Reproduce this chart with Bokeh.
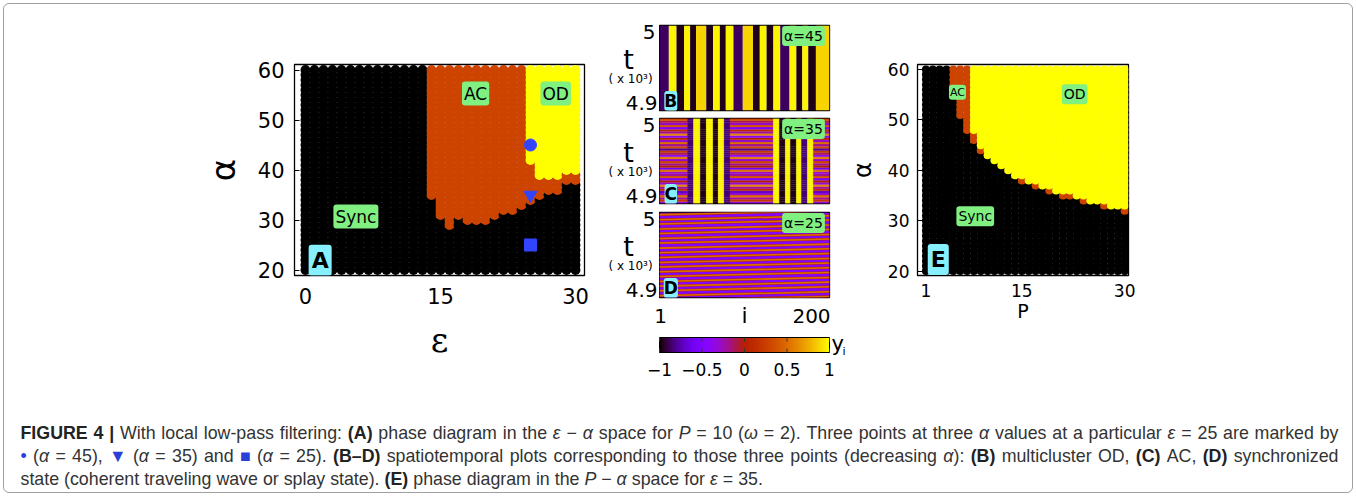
import numpy as np
from bokeh.plotting import figure
from bokeh.models import Range1d, Label, FixedTicker, LinearColorMapper, ColumnDataSource
from bokeh.layouts import row, column
from bokeh.embed import file_html
from bokeh.resources import INLINE
from bokeh.core.properties import value

# ---------------- data ----------------
# Panel A : phase diagram eps - alpha (P = 10)
A_eps = list(range(0, 31))
A_alpha = list(range(20, 61))
A_ac_eps = [14, 15, 16, 17, 18, 19, 20, 21, 22, 23, 24, 25, 26, 27, 28, 29, 30]
A_ac_bottom = [35, 31, 29, 31, 30, 30, 30, 31, 32, 32, 33, 34, 35, 36, 36, 38, 38]
A_od_eps = [25, 26, 27, 28, 29, 30]
A_od_bottom = [42, 39, 39, 39, 40, 40]
A_mark_eps = [25, 25, 25]
A_mark_alpha = [45, 35, 25]
A_mark_shape = ["circle", "inverted_triangle", "square"]

# Panel E : phase diagram P - alpha (eps = 35)
E_P = list(range(1, 31))
E_alpha = list(range(20, 61))
E_sync_top = [60, 60, 60, 60, 56, 50, 47, 45, 43, 42, 41, 40, 39, 38, 37,
              37, 36, 36, 35, 35, 34, 34, 34, 33, 33, 33, 32, 32, 32, 31]
E_ac_top = [60, 60, 60, 60, 60, 60, 60, 47, 44, 42, 41, 40, 39, 38, 38,
            37, 37, 36, 36, 35, 35, 35, 34, 34, 33, 33, 33, 32, 32, 32]

# Panel B : multicluster OD (stripes constant in time)
B_i_start = [1, 12, 21, 30, 37, 44, 56, 64, 72, 79, 88, 99, 111, 119, 127, 135,
             143, 154, 162, 169, 176, 185]
B_y = [-0.88, 0.97, -0.97, 0.97, -0.97, 0.88, -0.97, 0.97, -0.97, 0.97, -0.88,
       0.88, -0.97, 0.97, -0.97, 0.97, -0.88, 0.97, -0.97, 0.97, -0.97, 0.88]

# Panel C : AC state (None = incoherent, time-varying nodes)
C_i_start = [1, 34, 41, 49, 56, 64, 70, 77, 84, 135, 142, 149, 155, 162, 168, 175, 182]
C_y = [None, -0.85, 0.97, -0.97, 0.97, -0.97, 0.97, -0.85, None, 0.97, -0.97,
       0.97, -0.97, 0.97, -0.85, 0.97, None]
C_rows_y = [-0.3, 0.2, -0.2, 0.5, -0.3, -0.7, 0.1, -0.2, 0.6, -0.3, 0.0, -0.5,
            0.4, -0.2, -0.3, 0.5, -0.6, 0.0, -0.2, 0.3, -0.3, 0.6, -0.4, -0.1,
            0.2, -0.8, 0.3, -0.2, 0.5, -0.3, 0.0, -0.4, 0.6, -0.2, 0.1, -0.5,
            0.4, -0.3, -0.1, 0.3]

# Panel D : travelling wave, band centres (t at i = 1) and drift over i = 1..200
D_band_t = [4.8910, 4.8965, 4.9020, 4.9079, 4.9134, 4.9188, 4.9247, 4.9302,
            4.9358, 4.9412, 4.9471, 4.9526, 4.9581, 4.9640, 4.9694, 4.9753,
            4.9805, 4.9864, 4.9914, 4.9973]
D_rise = 0.0047

cbar_ticks = [-1.0, -0.5, 0.0, 0.5, 1.0]
cbar_labels = ["−1", "−0.5", "0", "0.5", "1"]

# ---------------- styles ----------------
SYNC_C, AC_C, OD_C = "#000000", "#cc4400", "#ffff00"
GREEN, CYAN = "#80f080", "#86f0ff"
BLUE = "#3344ff"
TICKFONT = "DejaVu Sans"


def gp_rgb(v):
    x = min(max((v + 1) / 2.0, 0.0), 1.0)
    r = np.sqrt(x)
    g = x ** 3
    b = max(0.0, np.sin(2 * np.pi * x))
    return "#%02x%02x%02x" % (int(round(255 * r)), int(round(255 * g)), int(round(255 * b)))


PALETTE = [gp_rgb(-1 + 2 * k / 255.0) for k in range(256)]
MAPPER = LinearColorMapper(palette=PALETTE, low=-1, high=1)


def base_fig(w, h, xr, yr, ml, mr, mt, mb, axes=True):
    kw = dict(width=w, height=h, x_range=xr, y_range=yr, output_backend="svg",
              toolbar_location=None, min_border_left=ml, min_border_right=mr,
              min_border_top=mt, min_border_bottom=mb)
    if not axes:
        kw.update(x_axis_location=None, y_axis_location=None)
    p = figure(**kw)
    for g in p.grid:
        g.visible = False
    p.outline_line_color = "black"
    p.outline_line_width = 1.3
    p.background_fill_color = "white"
    p.border_fill_color = None
    return p


def text_fig(w, h, x0, x1, y0, y1):
    # a bare canvas in page-pixel coordinates (y downwards) for text and the colour bar
    p = figure(width=w, height=h, x_range=Range1d(x0, x1), y_range=Range1d(y1, y0),
               output_backend="svg", toolbar_location=None, x_axis_location=None,
               y_axis_location=None, min_border=0)
    p.outline_line_color = None
    p.background_fill_color = None
    p.border_fill_color = None
    for g in p.grid:
        g.visible = False
    return p


def style_axis(ax, fs, standoff):
    ax.major_label_text_font = TICKFONT
    ax.major_label_text_font_size = fs
    ax.major_label_text_color = "black"
    ax.major_label_standoff = standoff
    ax.major_tick_in = 5
    ax.major_tick_out = 0
    ax.minor_tick_line_color = None
    ax.axis_line_color = "black"
    ax.axis_label_text_font_style = "normal"
    ax.axis_label_text_color = "black"


def box_label(p, x, y, text, fs, bg, bold=False, units="data", pad=2, font=TICKFONT):
    lab = Label(x=x, y=y, x_units=units, y_units=units, text=text,
                text_font=font, text_font_size=fs,
                text_font_style="bold" if bold else "normal",
                text_align="center", text_baseline="middle", text_color="black",
                background_fill_color=bg, border_line_color=None,
                padding=pad, border_radius=3)
    p.add_layout(lab)


def put_text(p, x, y, text, fs, align="center", font=TICKFONT):
    p.text(x=[x], y=[y], text=[text], text_font=value(font), text_font_size=fs,
           text_align=align, text_baseline="middle", text_color="black")


# ---------------- panel A ----------------
ac_b = dict(zip(A_ac_eps, A_ac_bottom))
od_b = dict(zip(A_od_eps, A_od_bottom))
ax_, ay_, ac_ = [], [], []
for a in A_alpha:
    for e in A_eps:
        if e in od_b and a >= od_b[e]:
            c = OD_C
        elif e in ac_b and a >= ac_b[e]:
            c = AC_C
        else:
            c = SYNC_C
        ax_.append(e); ay_.append(a); ac_.append(c)

pA = base_fig(600, 392, Range1d(-1.22, 31.0), Range1d(18.9, 61.1), 294, 16, 25, 95)
pA.scatter(x="x", y="y", fill_color="c", line_color=None, size=9.9,
           source=ColumnDataSource(dict(x=ax_, y=ay_, c=ac_)))
pA.scatter(x=A_mark_eps, y=A_mark_alpha, marker=A_mark_shape, size=[12, 13, 12],
           fill_color=BLUE, line_color=BLUE)
pA.xaxis.ticker = FixedTicker(ticks=[0, 15, 30])
pA.yaxis.ticker = FixedTicker(ticks=[20, 30, 40, 50, 60])
style_axis(pA.xaxis[0], "21px", 12)
style_axis(pA.yaxis[0], "21px", 10)
pA.xaxis.axis_label = "ε"
pA.xaxis.axis_label_text_font = "DejaVu Serif"
pA.xaxis.axis_label_text_font_size = "34px"
pA.xaxis.axis_label_standoff = 13
pA.yaxis.axis_label = "α"
pA.yaxis.axis_label_text_font = "DejaVu Sans"
pA.yaxis.axis_label_text_font_size = "34px"
pA.yaxis.axis_label_standoff = 12
box_label(pA, 5.6, 30.7, "Sync", "17px", GREEN)
box_label(pA, 18.9, 55.3, "AC", "17px", GREEN)
box_label(pA, 27.8, 55.3, "OD", "17px", GREEN)
box_label(pA, 1.63, 21.94, "A", "22px", CYAN, bold=True, pad=3)

# ---------------- panels B, C, D ----------------
def st_fig(h, mt, mb):
    return base_fig(186, h, Range1d(0.5, 200.5), Range1d(4.9, 5.0), 0, 16, mt, mb, axes=False)


def st_tags(p, tag, alab):
    box_label(p, 144, 74.5, alab, "14px", GREEN, units="screen", pad=2)
    box_label(p, 11.3, 9.5, tag, "17px", CYAN, bold=True, units="screen", pad=0)


pB = st_fig(114, 25, 4)
bl, br, bc = [], [], []
for k, s in enumerate(B_i_start):
    e = B_i_start[k + 1] if k + 1 < len(B_i_start) else 201
    bl.append(s - 0.5); br.append(e - 0.5); bc.append(gp_rgb(B_y[k]))
pB.quad(left=bl, right=br, bottom=4.9, top=5.0, fill_color=bc, line_color=None)
st_tags(pB, "B", "α=45")

pC = st_fig(93, 4, 4)
cl, cr, cb, ct, cc = [], [], [], [], []
nr = len(C_rows_y)
for k, s in enumerate(C_i_start):
    e = C_i_start[k + 1] if k + 1 < len(C_i_start) else 201
    for r in range(nr):
        v = C_y[k] if C_y[k] is not None else C_rows_y[r]
        cl.append(s - 0.5); cr.append(e - 0.5)
        cb.append(4.9 + 0.1 * r / nr); ct.append(4.9 + 0.1 * (r + 1) / nr)
        cc.append(gp_rgb(v))
pC.quad(left=cl, right=cr, bottom=cb, top=ct, fill_color=cc, line_color=cc, line_width=0.3)
st_tags(pC, "C", "α=35")

pD = st_fig(93, 5, 3)
pD.quad(left=0.5, right=200.5, bottom=4.9, top=5.0, fill_color=gp_rgb(-0.45), line_color=None)
for half, v in [(0.00145, 0.0), (0.0009, 0.5)]:
    xs = [[0.5, 200.5, 200.5, 0.5] for _ in D_band_t]
    ys = [[t - half, t + D_rise - half, t + D_rise + half, t + half] for t in D_band_t]
    pD.patches(xs=xs, ys=ys, fill_color=gp_rgb(v), line_color=None)
st_tags(pD, "D", "α=25")

# left-hand labels of B, C, D (page-pixel coordinates, x 600..659, y 0..300)
pL = text_fig(59, 300, 600, 659, 0, 300)
for dy in [0, 93, 187]:
    put_text(pL, 655, 31 + dy, "5", "20px", align="right")
    put_text(pL, 657, 102 + dy, "4.9", "20px", align="right")
    put_text(pL, 628, 59 + dy, "t", "27px")
    put_text(pL, 630, 78 + dy, "( x 10³)", "12px")

# i-axis labels under D and the colour bar (page-pixel coordinates, x 600..845, y 300..392)
pBot = text_fig(245, 92, 600, 845, 300, 392)
put_text(pBot, 660, 315, "1", "20px")
put_text(pBot, 744, 315, "i", "22px")
put_text(pBot, 811, 315, "200", "20px")
CB_L, CB_R, CB_T, CB_B = 659, 829, 337, 352
pBot.image(image=[np.linspace(-1, 1, 256).reshape(1, 256)], x=CB_L, y=CB_T,
           dw=CB_R - CB_L, dh=CB_B - CB_T, color_mapper=MAPPER)
pBot.quad(left=CB_L, right=CB_R, bottom=CB_B, top=CB_T, fill_color=None,
          line_color="black", line_width=1)
tick_x = [CB_L + (t + 1) / 2.0 * (CB_R - CB_L) for t in cbar_ticks]
pBot.segment(x0=tick_x, x1=tick_x, y0=CB_T, y1=CB_T + 4, line_color="#333333", line_width=1)
pBot.segment(x0=tick_x, x1=tick_x, y0=CB_B - 4, y1=CB_B, line_color="#333333", line_width=1)
for xt, lab in zip(tick_x, cbar_labels):
    put_text(pBot, xt, 369, lab, "17px")
put_text(pBot, 831, 343, "y", "21px", align="left")
put_text(pBot, 842, 351, "i", "11px", align="left")

# ---------------- panel E ----------------
ex_, ey_, ec_ = [], [], []
for a in E_alpha:
    for k, P in enumerate(E_P):
        if a <= E_sync_top[k]:
            c = SYNC_C
        elif a <= E_ac_top[k]:
            c = AC_C
        else:
            c = OD_C
        ex_.append(P); ey_.append(a); ec_.append(c)

pE = base_fig(511, 392, Range1d(-0.23, 30.56), Range1d(19.13, 61.0), 57, 228, 64, 117)
pE.scatter(x="x", y="y", fill_color="c", line_color=None, size=8.0,
           source=ColumnDataSource(dict(x=ex_, y=ey_, c=ec_)))
pE.xaxis.ticker = FixedTicker(ticks=[1, 15, 30])
pE.yaxis.ticker = FixedTicker(ticks=[20, 30, 40, 50, 60])
style_axis(pE.xaxis[0], "17px", 8)
style_axis(pE.yaxis[0], "17px", 8)
pE.xaxis.axis_label = "P"
pE.xaxis.axis_label_text_font = "DejaVu Sans"
pE.xaxis.axis_label_text_font_size = "19px"
pE.xaxis.axis_label_standoff = 0
pE.yaxis.axis_label = "α"
pE.yaxis.axis_label_text_font = "DejaVu Sans"
pE.yaxis.axis_label_text_font_size = "24px"
pE.yaxis.axis_label_standoff = 8
box_label(pE, 5.6, 55.5, "AC", "11px", GREEN, pad=1)
box_label(pE, 22.7, 55.1, "OD", "14px", GREEN, pad=2)
box_label(pE, 8.2, 30.9, "Sync", "14px", GREEN, pad=2)
box_label(pE, 2.8, 22.3, "E", "22px", CYAN, bold=True, pad=3)

# ---------------- caption ----------------
REG_W = {}
for chars, w in [(" ,.:;!ftI[]/", 278), ("ijl", 222), ("()-r", 333), ("cksvxyzJ", 500),
                 ("0123456789abdeghnopquL?–_", 556), ("=+−<>", 584), ("FTZ", 611),
                 ("ABEKPSVXY", 667), ("CDHNRUw", 722), ("GOQ", 778), ("mM", 833),
                 ("W", 944), ("|", 260), ("α", 578), ("ε", 446), ("ω", 781), ("•", 350),
                 ("▼", 989), ("■", 604)]:
    for ch in chars:
        REG_W[ch] = w
BOLD_W = dict(REG_W)
for chars, w in [("()", 333), ("ABCDRUH", 722), ("E", 667), ("F", 611), ("G", 778),
                 ("I ", 278), ("|", 280), ("–0123456789", 556)]:
    for ch in chars:
        BOLD_W[ch] = w

CAP_COLOR = "#333333"
STYLE = {"reg": ("normal", CAP_COLOR), "bold": ("bold", "#222222"),
         "ital": ("italic", CAP_COLOR), "blue": ("normal", "#2a3fd8")}

cap_lines = [
    [("FIGURE 4 | ", "bold"), ("With local low-pass filtering: ", "reg"), ("(A)", "bold"),
     (" phase diagram in the ", "reg"), ("ε", "ital"), (" − ", "reg"), ("α", "ital"),
     (" space for ", "reg"), ("P", "ital"), (" = 10 (", "reg"), ("ω", "ital"),
     (" = 2). Three points at three ", "reg"), ("α", "ital"),
     (" values at a particular ", "reg"), ("ε", "ital"), (" = 25 are marked by", "reg")],
    [("•", "blue"), (" (", "reg"), ("α", "ital"), (" = 45), ", "reg"), ("▼", "blue"),
     (" (", "reg"), ("α", "ital"), (" = 35) and ", "reg"), ("■", "blue"), (" (", "reg"),
     ("α", "ital"), (" = 25). ", "reg"), ("(B–D)", "bold"),
     (" spatiotemporal plots corresponding to those three points (decreasing ", "reg"),
     ("α", "ital"), ("): ", "reg"), ("(B)", "bold"), (" multicluster OD, ", "reg"),
     ("(C)", "bold"), (" AC, ", "reg"), ("(D)", "bold"), (" synchronized", "reg")],
    [("state (coherent traveling wave or splay state). ", "reg"), ("(E)", "bold"),
     (" phase diagram in the ", "reg"), ("P", "ital"), (" − ", "reg"), ("α", "ital"),
     (" space for ", "reg"), ("ε", "ital"), (" = 35.", "reg")],
]
cap_base = [432, 455, 478]
cap_target = [1338, 1338, None]
CAP_X0, CAP_FS = 20, 17.8

pCap = text_fig(1356, 104, 0, 1356, 392, 496)


def cap_width(t, st):
    tab = BOLD_W if st == "bold" else REG_W
    return sum(tab.get(c, 556) for c in t) * CAP_FS / 1000.0


for segs, yb, target in zip(cap_lines, cap_base, cap_target):
    toks = []
    for text, st in segs:
        buf = ""
        for ch in text:
            if ch == " ":
                if buf:
                    toks.append((buf, st)); buf = ""
                toks.append((" ", st))
            else:
                buf += ch
        if buf:
            toks.append((buf, st))
    nat = sum(cap_width(t, st) for t, st in toks)
    nsp = sum(1 for t, _ in toks if t == " ")
    extra = (target - CAP_X0 - nat) / nsp if target else 0.0
    x = CAP_X0
    groups = {}
    for t, st in toks:
        w = cap_width(t, st)
        if t == " ":
            x += w + extra
        else:
            groups.setdefault(st, ([], []))
            groups[st][0].append(x); groups[st][1].append(t)
            x += w
    for st, (xs, ts) in groups.items():
        fstyle, col = STYLE[st]
        pCap.text(x=xs, y=[yb] * len(xs), text=ts, text_font=value("Liberation Sans"),
                  text_font_size="%.1fpx" % CAP_FS, text_font_style=fstyle, text_color=col,
                  text_baseline="alphabetic", text_align="left")

# ---------------- layout ----------------
mid = column(row(pL, column(pB, pC, pD)), pBot)
top = row(pA, mid, pE)
root = column(top, pCap, styles={"outline": "1px solid #a0a0a0", "outline-offset": "-4px",
                                 "border-radius": "9px", "background": "white"})

open("out.html", "w").write(file_html(root, INLINE))
